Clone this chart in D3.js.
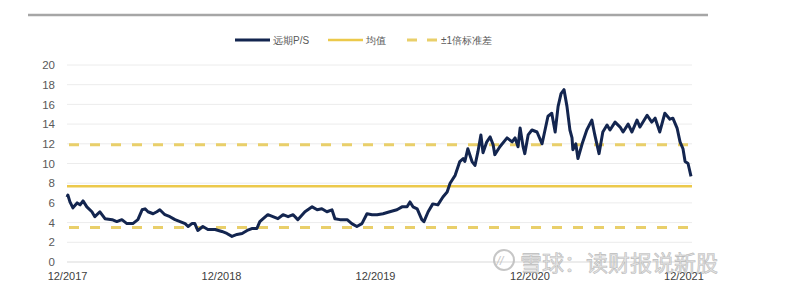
<!DOCTYPE html>
<html>
<head>
<meta charset="utf-8">
<script src="https://cdn.jsdelivr.net/npm/d3@7"></script>
<style>
  body { margin: 0; background: #fff; }
  svg { display: block; font-family: "Liberation Sans", "Noto Sans", sans-serif; }
</style>
</head>
<body>
<svg id="chart" width="788" height="302"></svg>
<script>
// 远期P/S
var psDates = [
  "2017-12-01","2017-12-03","2017-12-08","2017-12-15","2017-12-25","2018-01-01","2018-01-08","2018-01-17","2018-01-29","2018-02-05",
  "2018-02-17","2018-03-01","2018-03-18","2018-03-29","2018-04-10","2018-04-22","2018-05-06","2018-05-18","2018-05-28","2018-06-04",
  "2018-06-11","2018-06-23","2018-07-02","2018-07-09","2018-07-21","2018-08-02","2018-08-14","2018-08-26","2018-09-07","2018-09-14",
  "2018-09-23","2018-09-30","2018-10-07","2018-10-19","2018-10-31","2018-11-17","2018-12-03","2018-12-15","2018-12-27","2019-01-08",
  "2019-01-20","2019-02-01","2019-02-12","2019-02-24","2019-03-03","2019-03-11","2019-03-22","2019-04-03","2019-04-15","2019-04-27",
  "2019-05-09","2019-05-21","2019-06-01","2019-06-18","2019-07-05","2019-07-17","2019-07-28","2019-08-09","2019-08-21","2019-08-28",
  "2019-09-09","2019-09-26","2019-10-07","2019-10-19","2019-10-31","2019-11-12","2019-11-24","2019-12-06","2019-12-20","2020-01-05",
  "2020-01-22","2020-02-03","2020-02-15","2020-02-22","2020-02-29","2020-03-10","2020-03-21","2020-03-26","2020-04-05","2020-04-16",
  "2020-04-28","2020-05-10","2020-05-20","2020-05-27","2020-06-08","2020-06-19","2020-06-27","2020-07-01","2020-07-08","2020-07-18",
  "2020-07-25","2020-08-01","2020-08-08","2020-08-13","2020-08-22","2020-08-30","2020-09-06","2020-09-10","2020-09-22","2020-10-09",
  "2020-10-21","2020-10-28","2020-11-04","2020-11-09","2020-11-16","2020-11-20","2020-11-28","2020-12-07","2020-12-19","2020-12-31",
  "2021-01-07","2021-01-14","2021-01-23","2021-01-31","2021-02-07","2021-02-14","2021-02-21","2021-02-28","2021-03-07","2021-03-12",
  "2021-03-14","2021-03-21","2021-03-26","2021-04-05","2021-04-16","2021-04-28","2021-05-05","2021-05-15","2021-05-24","2021-06-03",
  "2021-06-10","2021-06-22","2021-07-04","2021-07-11","2021-07-23","2021-08-01","2021-08-13","2021-08-20","2021-09-06","2021-09-17",
  "2021-09-25","2021-10-06","2021-10-18","2021-10-30","2021-11-06","2021-11-16","2021-11-23","2021-11-30","2021-12-05","2021-12-12",
  "2021-12-19"];
var psValues = [
  6.6,6.8,6.1,5.5,6.0,5.8,6.2,5.6,5.1,4.6,
  5.1,4.4,4.3,4.1,4.3,3.9,3.9,4.3,5.3,5.4,
  5.1,4.9,5.1,5.3,4.8,4.6,4.3,4.1,3.9,3.6,
  3.9,3.9,3.2,3.6,3.3,3.3,3.1,2.9,2.6,2.8,
  2.9,3.2,3.4,3.4,4.1,4.4,4.8,4.6,4.4,4.8,
  4.6,4.8,4.3,5.1,5.6,5.3,5.4,5.1,5.3,4.4,
  4.3,4.3,3.9,3.6,3.9,4.9,4.8,4.8,4.9,5.1,
  5.3,5.6,5.6,6.1,5.6,5.4,4.3,4.1,5.1,5.9,
  5.8,6.6,7.1,8.0,8.8,10.2,10.5,10.2,11.5,10.2,
  9.8,11.2,12.9,11.1,12.2,12.7,11.9,10.9,11.7,12.6,
  12.2,12.6,11.7,13.6,11.7,11.0,12.9,13.4,13.2,12.0,
  13.4,14.8,15.1,13.2,15.8,17.1,17.5,15.8,13.4,12.6,
  11.4,12.0,10.5,12.0,13.4,14.4,12.9,11.0,13.2,13.9,
  13.4,14.2,13.7,13.2,14.0,13.2,14.4,13.7,14.9,14.2,
  14.6,13.2,15.1,14.5,14.6,13.6,12.2,11.5,10.2,10.0,
  8.7];

var meanValue = 7.7;
var stdBands = [11.9, 3.5];

var yTicks = [0,2,4,6,8,10,12,14,16,18,20];
var xTickDates = ["2017-12-01","2018-12-01","2019-12-01","2020-12-01","2021-12-01"];
var xTickLabels = ["12/2017","12/2018","12/2019","12/2020","12/2021"];

var legendNames = ["远期P/S", "均值", "±1倍标准差"];

var parse = d3.timeParse("%Y-%m-%d");
var series = psDates.map(function(d, i){ return {date: parse(d), value: psValues[i]}; });

var svg = d3.select("#chart");
var mLeft = 67, mRight = 691, mTop = 65, mBottom = 262;

var x = d3.scaleTime()
  .domain([parse("2017-12-01"), parse("2021-12-19")])
  .range([mLeft, mRight]);
var y = d3.scaleLinear().domain([0, 20]).range([mBottom, mTop]);

// top rule
svg.append("line")
  .attr("x1", 28).attr("x2", 708).attr("y1", 15).attr("y2", 15)
  .attr("stroke", "#a6a6a6").attr("stroke-width", 2.5);

// grid
svg.append("g").selectAll("line")
  .data(yTicks.filter(function(t){ return t > 0; }))
  .enter().append("line")
  .attr("x1", mLeft).attr("x2", mRight + 1)
  .attr("y1", function(d){ return y(d); }).attr("y2", function(d){ return y(d); })
  .attr("stroke", "#ececec").attr("stroke-width", 1);

// y axis
var yAxis = svg.append("g")
  .attr("transform", "translate(" + mLeft + ",0)")
  .call(d3.axisLeft(y).tickValues(yTicks).tickSize(0).tickPadding(12));
yAxis.select(".domain").remove();
yAxis.selectAll("text").attr("fill", "#595959").style("font-size", "11.5px");

// x axis
var xAxis = svg.append("g")
  .attr("transform", "translate(0," + mBottom + ")")
  .call(d3.axisBottom(x).tickValues(xTickDates.map(parse)).tickSize(0).tickPadding(10)
    .tickFormat(function(d, i){ return xTickLabels[i]; }));
xAxis.select(".domain").attr("stroke", "#d9d9d9").attr("d", "M" + mLeft + ",0H" + (mRight + 1));
xAxis.selectAll("text").attr("fill", "#404040").style("font-size", "11px");

// mean and bands
svg.append("line")
  .attr("x1", mLeft).attr("x2", mRight + 1)
  .attr("y1", y(meanValue)).attr("y2", y(meanValue))
  .attr("stroke", "#ecc94b").attr("stroke-width", 2.5);

svg.append("g").selectAll("line")
  .data(stdBands)
  .enter().append("line")
  .attr("x1", mLeft + 2).attr("x2", mRight + 1)
  .attr("y1", function(d){ return y(d); }).attr("y2", function(d){ return y(d); })
  .attr("stroke", "#e9cf6a").attr("stroke-width", 3)
  .attr("stroke-dasharray", "10,11");

// P/S line
var line = d3.line()
  .x(function(d){ return x(d.date); })
  .y(function(d){ return y(d.value); })
  .curve(d3.curveLinear);

svg.append("path")
  .datum(series)
  .attr("d", line)
  .attr("fill", "none")
  .attr("stroke", "#13254f")
  .attr("stroke-width", 3)
  .attr("stroke-linejoin", "round");

// legend
var lg = svg.append("g").style("font-size", "10px").attr("fill", "#595959");
lg.append("line").attr("x1", 235).attr("x2", 270).attr("y1", 40).attr("y2", 40)
  .attr("stroke", "#13254f").attr("stroke-width", 3);
lg.append("text").attr("x", 273).attr("y", 44).text(legendNames[0]);
lg.append("line").attr("x1", 328).attr("x2", 363).attr("y1", 40).attr("y2", 40)
  .attr("stroke", "#ecc94b").attr("stroke-width", 2.5);
lg.append("text").attr("x", 366).attr("y", 44).text(legendNames[1]);
lg.append("line").attr("x1", 407).attr("x2", 437).attr("y1", 40).attr("y2", 40)
  .attr("stroke", "#e9cf6a").attr("stroke-width", 3).attr("stroke-dasharray", "10,10");
lg.append("text").attr("x", 441).attr("y", 44).text(legendNames[2]);

// watermark
var wm = svg.append("g").attr("opacity", 0.85);
wm.append("circle").attr("cx", 504).attr("cy", 260).attr("r", 10)
  .attr("fill", "none").attr("stroke", "#bdbdbd").attr("stroke-width", 2);
wm.append("text").attr("x", 500).attr("y", 265).attr("text-anchor", "middle")
  .style("font-size", "12px").style("font-style", "italic").attr("fill", "#bdbdbd").text("//");
wm.append("text").attr("x", 520).attr("y", 271)
  .style("font-family", "Noto Sans CJK SC").style("font-size", "22px")
  .attr("fill", "#e0e0e0").attr("stroke", "#b0b0b0").attr("stroke-width", 0.6)
  .text("雪球：读财报说新股");
</script>
</body>
</html>
